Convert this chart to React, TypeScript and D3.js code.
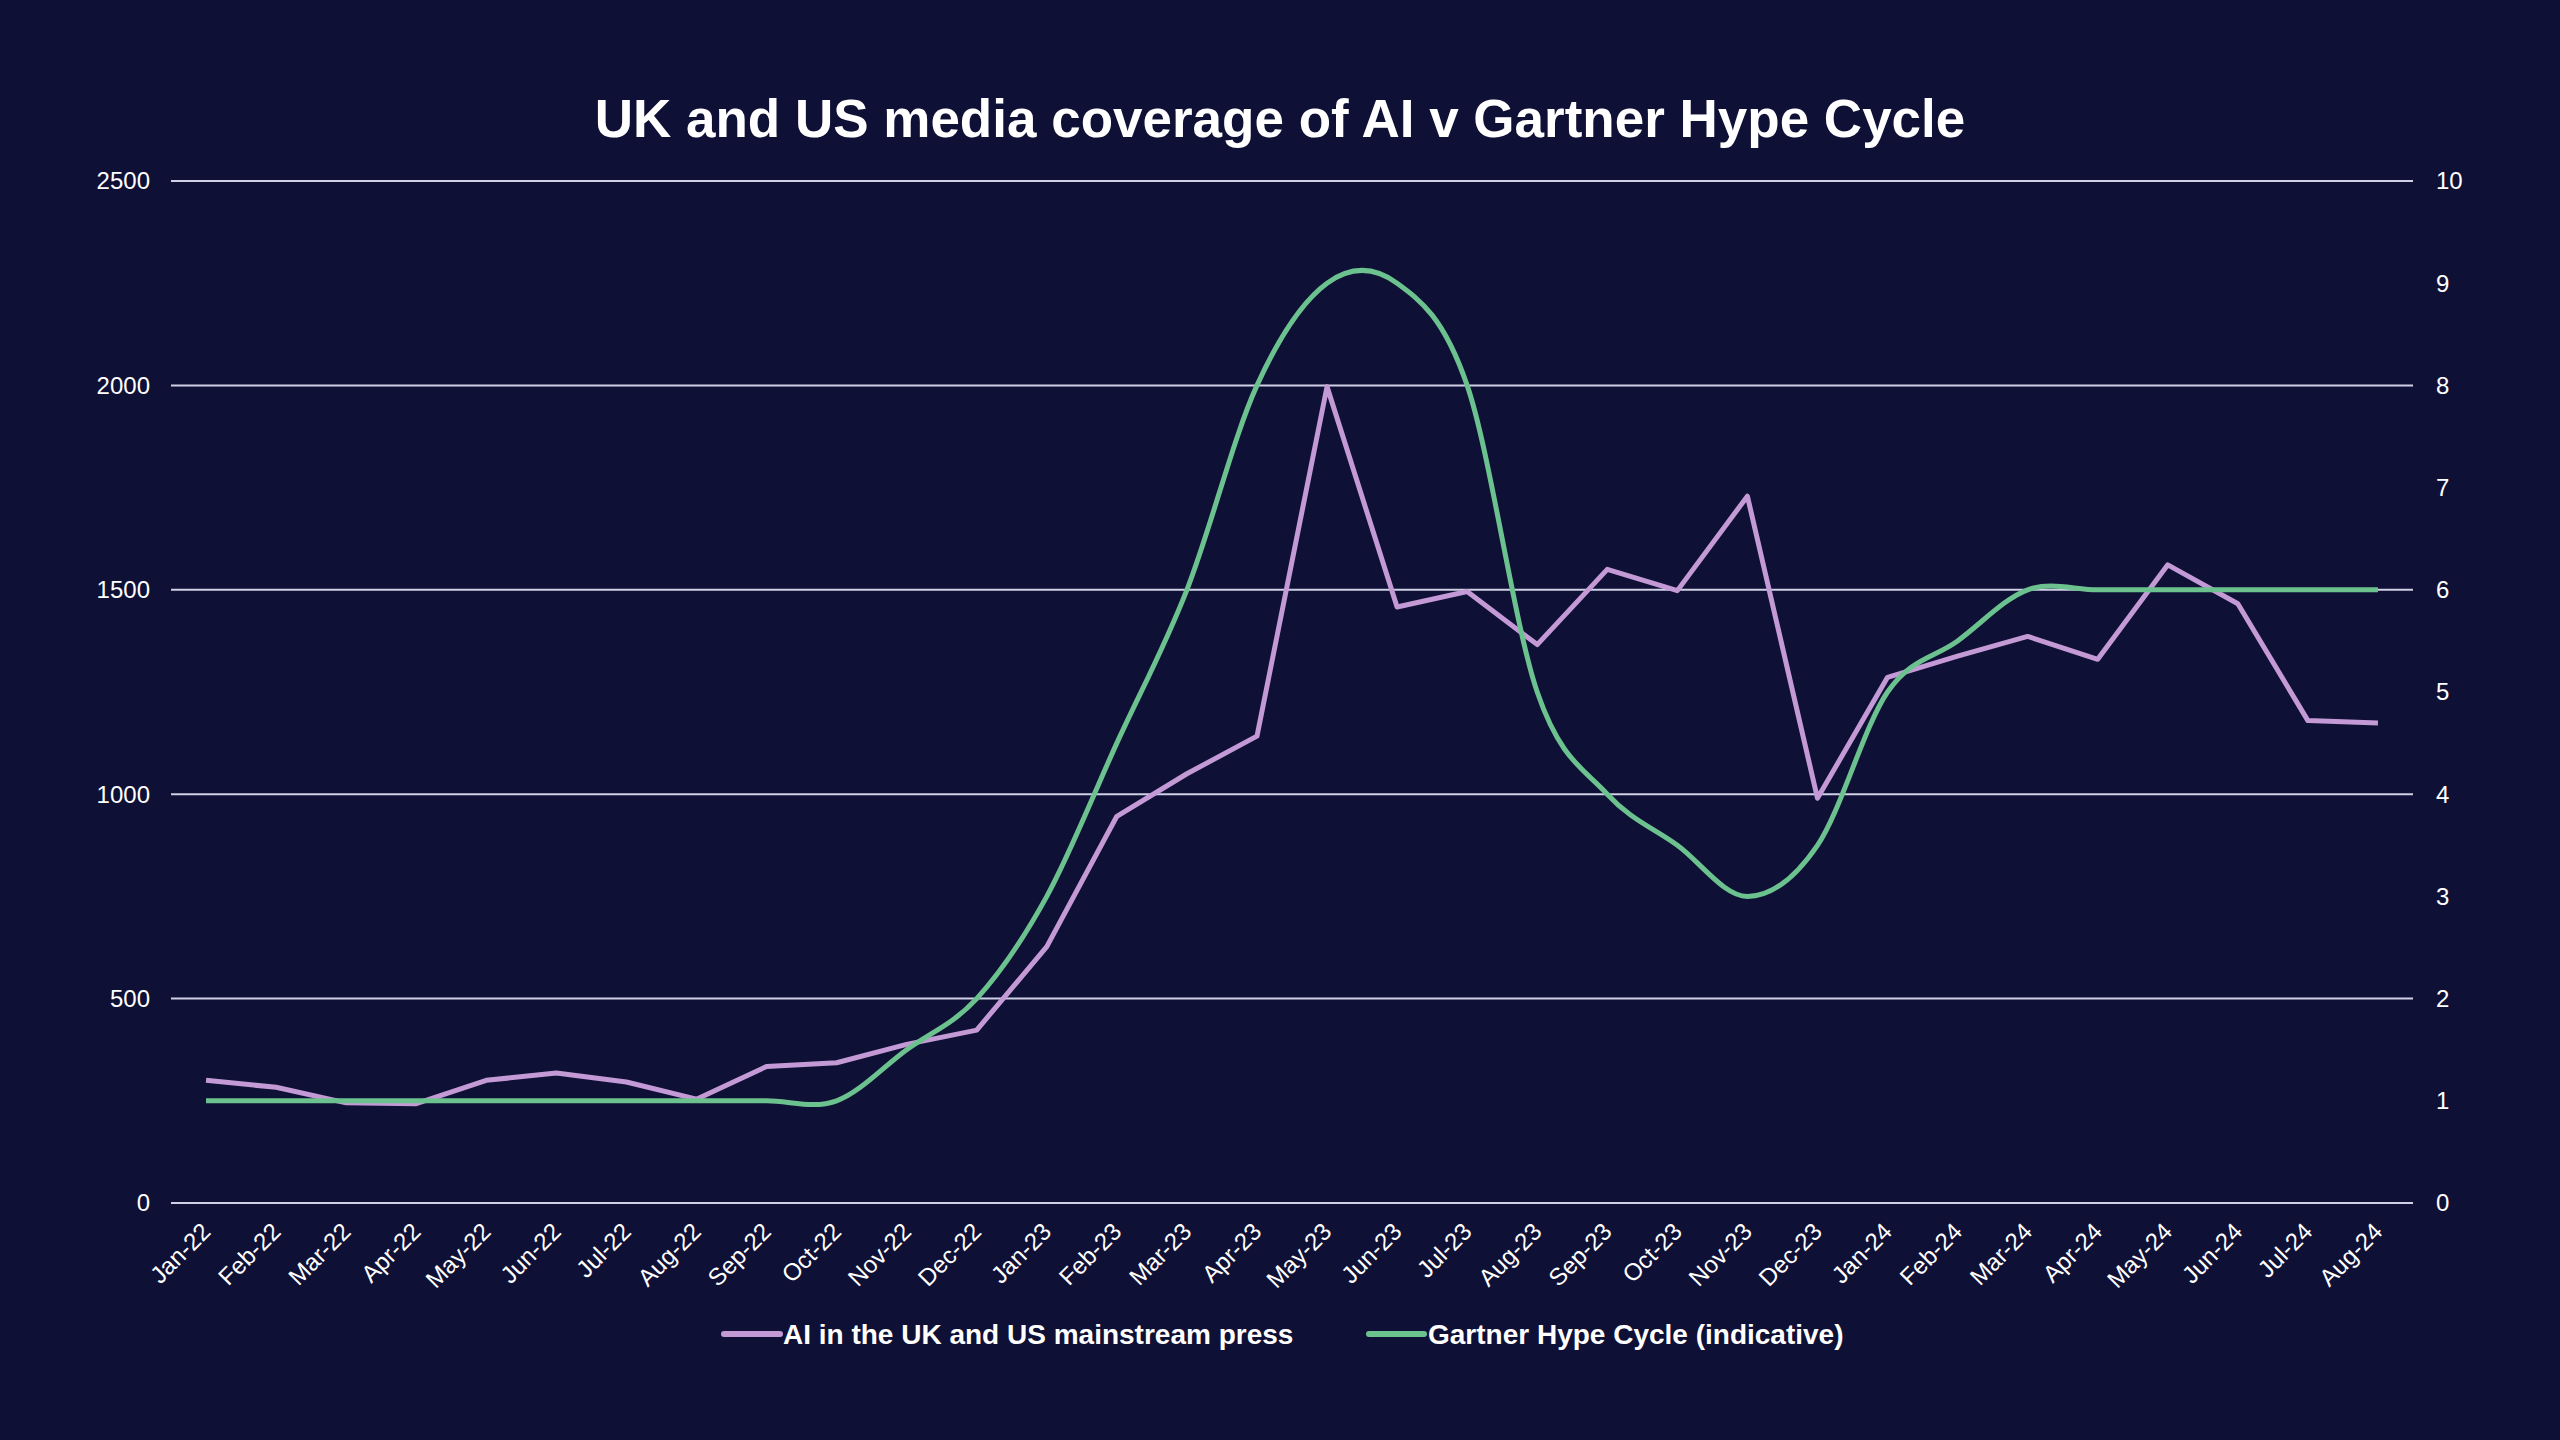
import React from 'react';
import * as d3 from 'd3';

const months = [
  'Jan-22', 'Feb-22', 'Mar-22', 'Apr-22', 'May-22', 'Jun-22', 'Jul-22', 'Aug-22',
  'Sep-22', 'Oct-22', 'Nov-22', 'Dec-22', 'Jan-23', 'Feb-23', 'Mar-23', 'Apr-23',
  'May-23', 'Jun-23', 'Jul-23', 'Aug-23', 'Sep-23', 'Oct-23', 'Nov-23', 'Dec-23',
  'Jan-24', 'Feb-24', 'Mar-24', 'Apr-24', 'May-24', 'Jun-24', 'Jul-24', 'Aug-24',
];

// articles mentioning AI (left axis)
const pressCoverage = [
  300, 283, 245, 243, 300, 318, 296, 254,
  334, 343, 388, 423, 627, 946, 1050, 1142,
  1997, 1458, 1496, 1366, 1550, 1498, 1729, 990,
  1286, 1338, 1386, 1330, 1561, 1466, 1180, 1174,
];

// indicative hype level (right axis)
const hypeCycle = [
  1, 1, 1, 1, 1, 1, 1, 1,
  1, 1, 1.5, 2, 3, 4.5, 6, 8,
  9, 9, 8, 5, 4, 3.5, 3, 3.5,
  5, 5.5, 6, 6, 6, 6, 6, 6,
];

const leftTicks = [0, 500, 1000, 1500, 2000, 2500];
const rightTicks = [0, 1, 2, 3, 4, 5, 6, 7, 8, 9, 10];

const W = 2560;
const H = 1440;
const margin = { top: 181, right: 147, bottom: 237, left: 171 };
const bg = '#0f1035';
const purple = '#c49ad6';
const green = '#6cc28f';
const gridColor = '#cfd0e6';
const font = "'Liberation Sans', Arial, sans-serif";

const App: React.FC = () => {
  const x = d3.scaleBand<string>().domain(months).range([margin.left, W - margin.right]);
  const yLeft = d3.scaleLinear().domain([0, 2500]).range([H - margin.bottom, margin.top]);
  const yRight = d3.scaleLinear().domain([0, 10]).range([H - margin.bottom, margin.top]);
  const cx = (m: string) => (x(m) ?? 0) + x.bandwidth() / 2;

  const pressLine = d3.line<number>()
    .x((_, i) => cx(months[i]))
    .y(d => yLeft(d));

  const hypeLine = d3.line<number>()
    .x((_, i) => cx(months[i]))
    .y(d => yRight(d))
    .curve(d3.curveCardinal.tension(0));

  const x0 = margin.left;
  const x1 = W - margin.right;

  return (
    <svg width={W} height={H} style={{ position: 'absolute', left: 0, top: 0, background: bg }} fontFamily={font}>
      <rect width={W} height={H} fill={bg} />
      <text x={W / 2} y={137} textAnchor="middle" fill="#fff" fontSize={53} fontWeight="bold">
        UK and US media coverage of AI v Gartner Hype Cycle
      </text>

      {leftTicks.map(t => (
        <g key={'l' + t}>
          <line x1={x0} x2={x1} y1={yLeft(t)} y2={yLeft(t)} stroke={gridColor} strokeWidth={2} />
          <text x={150} y={yLeft(t)} dy="0.35em" textAnchor="end" fill="#fff" fontSize={24}>{t}</text>
        </g>
      ))}
      {rightTicks.map(t => (
        <text key={'r' + t} x={2436} y={yRight(t)} dy="0.35em" textAnchor="start" fill="#fff" fontSize={24}>{t}</text>
      ))}

      {months.map(m => (
        <text key={m} transform={`translate(${cx(m) + 6},${H - margin.bottom + 30}) rotate(-45)`}
          textAnchor="end" fill="#fff" fontSize={24}>{m}</text>
      ))}

      <path d={pressLine(pressCoverage) ?? ''} fill="none" stroke={purple} strokeWidth={5} strokeLinejoin="round" />
      <path d={hypeLine(hypeCycle) ?? ''} fill="none" stroke={green} strokeWidth={5} strokeLinejoin="round" />

      <g fontSize={28} fontWeight="bold" fill="#fff">
        <line x1={724} x2={780} y1={1334} y2={1334} stroke={purple} strokeWidth={6} strokeLinecap="round" />
        <text x={783} y={1344}>AI in the UK and US mainstream press</text>
        <line x1={1369} x2={1424} y1={1334} y2={1334} stroke={green} strokeWidth={6} strokeLinecap="round" />
        <text x={1428} y={1344}>Gartner Hype Cycle (indicative)</text>
      </g>
    </svg>
  );
};

export default App;
